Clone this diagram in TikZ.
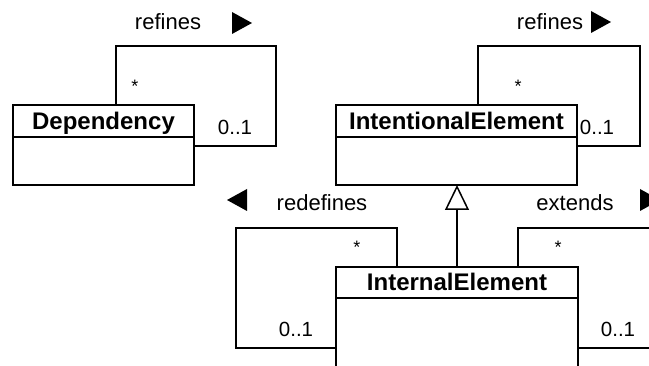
\documentclass[tikz,border=0pt]{standalone}
\usepackage{fontspec}
\setmainfont{Liberation Sans}
\usetikzlibrary{positioning,arrows.meta}

\begin{document}
\begin{tikzpicture}[x=1pt,y=-1pt]
    \newcommand\sensD[2]{\fill (#1-10,#2-11) -- (#1+10,#2) -- (#1-10,#2+11) -- cycle;}
    \newcommand\sensG[2]{\fill (#1+10,#2-11) -- (#1-10,#2) -- (#1+10,#2+11) -- cycle;}
    \tikzstyle{cls}=[draw,line width=1.5pt,outer sep=0pt,inner sep=0pt,text height=17pt,text depth=0pt,
                     font=\fontsize{24}{28}\selectfont\bfseries]
    \tikzstyle{corps}=[draw,line width=1.5pt,outer sep=0pt,inner sep=0pt]
    \tikzstyle{lbl}=[font=\fontsize{22}{26}\selectfont]
    \tikzstyle{mult}=[font=\fontsize{20.5}{24}\selectfont]
    \tikzstyle{star}=[font=\fontsize{18}{22}\selectfont]
    \tikzstyle{lien}=[line width=1.5pt]
    \useasboundingbox (0,0) rectangle (649,366);
    % classes
    \node[cls,minimum width=181pt,minimum height=32pt,anchor=north west] (dep) at (13,105) {Dependency};
    \node[corps,minimum width=181pt,minimum height=48pt,below=0pt of dep] (depb) {};
    \node[cls,minimum width=241pt,minimum height=32pt,anchor=north west] (ie) at (336,105) {IntentionalElement};
    \node[corps,minimum width=241pt,minimum height=48pt,below=0pt of ie] (ieb) {};
    \node[cls,minimum width=242pt,minimum height=31pt,anchor=north west] (in) at (336,267) {InternalElement};
    \node[corps,minimum width=242pt,minimum height=80pt,below=0pt of in] (inb) {};
    % auto-associations
    \coordinate (depL) at (276,46);
    \coordinate (ieL) at (640,46);
    \coordinate (redL) at (236,228);
    \coordinate (extL) at (670,228);
    \draw[lien] ([xshift=103pt]dep.north west) |- (depL) |- ([yshift=-9pt]depb.north east);
    \draw[lien] ([xshift=142pt]ie.north west) |- (ieL) |- ([yshift=-9pt]ieb.north east);
    \draw[lien] ([xshift=61pt]in.north west) |- (redL) |- ([yshift=-50pt]inb.north west);
    \draw[lien] ([xshift=182pt]in.north west) |- (extL) |- ([yshift=-50pt]inb.north east);
    % generalisation
    \draw[lien,-{Triangle[open,width=24pt,length=25pt]}] (in.north) -- (in.north |- ieb.south);
    % labels
    \node[lbl] (depR) at (168,22) {refines}; \sensD{242}{23}
    \node[star] (depS) at (135,86) {*};
    \node[mult] (depM) at (235,127) {0..1};
    \node[lbl] (ieR) at (550,22) {refines}; \sensD{601}{22}
    \node[star] (ieS) at (518,86) {*};
    \node[mult] (ieM) at (597,127) {0..1};
    \node[lbl] (redR) at (322,203) {redefines}; \sensG{237}{200}
    \node[star] (redS) at (357,247) {*};
    \node[mult] (redM) at (296,329) {0..1};
    \node[lbl] (extR) at (575,203) {extends}; \sensD{650}{200}
    \node[star] (extS) at (558,247) {*};
    \node[mult] (extM) at (618,329) {0..1};
\end{tikzpicture}
\end{document}
